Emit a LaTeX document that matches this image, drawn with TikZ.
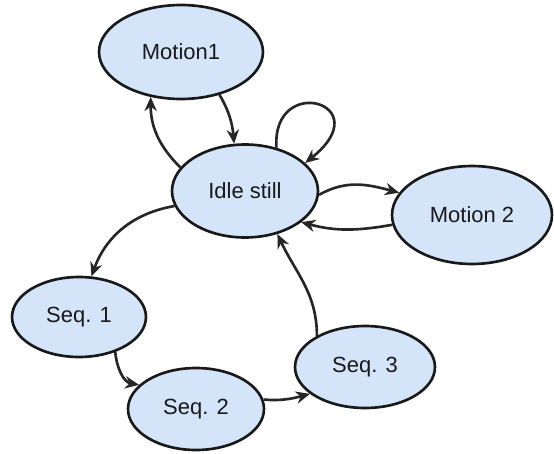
\documentclass[tikz,border=0pt]{standalone}
\usepackage{fontspec}
\setmainfont{Liberation Sans}
\usetikzlibrary{shapes.geometric, arrows.meta}

\definecolor{statefill}{RGB}{212,228,249}

\begin{document}
\begin{tikzpicture}[x=0.02cm, y=-0.02cm, line width=1.5pt,
		state/.style={ellipse, draw=black!90, fill=statefill, inner sep=0pt,
			font=\fontsize{12.5}{14}\selectfont, text=black!90},
		link/.style={-{Stealth[length=8pt, width=7pt]}, black!85}]
		% x and y in pixels, y going down: (0, 0) is the top left corner
		\useasboundingbox (0, 0) rectangle (554, 453);

		\node[state, minimum width=3.28cm, minimum height=1.88cm] (motion1) at (181, 52) {Motion1};
		\node[state, minimum width=2.92cm, minimum height=1.86cm] (idle) at (245, 191) {Idle still};
		\node[state, minimum width=3.2cm, minimum height=1.96cm] (motion2) at (472, 215) {Motion 2};
		\node[state, minimum width=2.68cm, minimum height=1.6cm] (seq1) at (79, 317) {Seq. 1};
		\node[state, minimum width=2.72cm, minimum height=1.64cm] (seq2) at (196, 409) {Seq. 2};
		\node[state, minimum width=2.8cm, minimum height=1.64cm] (seq3) at (365, 367) {Seq. 3};

		% idle <-> motion 1
		\draw[link] (motion1.-48) to[out=-60, in=95] (idle.103);
		\draw[link] (idle.160) to[out=135, in=-90] (motion1.236);
		% staying idle
		\draw[link] (idle.54) .. controls +(-5, -75) and +(75, -60) .. (idle.25);
		% idle <-> motion 2
		\draw[link] (idle.-3) to[out=30, in=165] (motion2.163);
		\draw[link] (motion2.187) to[out=190, in=-15] (idle.-29);
		% the sequence, back to idle
		\draw[link] (idle.192) to[out=190, in=70] (seq1.73);
		\draw[link] (seq1.-44) to[out=-85, in=170] (seq2.157);
		\draw[link] (seq2.8) to[out=-5, in=195] (seq3.206);
		\draw[link] (seq3.147) to[out=90, in=-65] (idle.-53);
	\end{tikzpicture}
\end{document}
